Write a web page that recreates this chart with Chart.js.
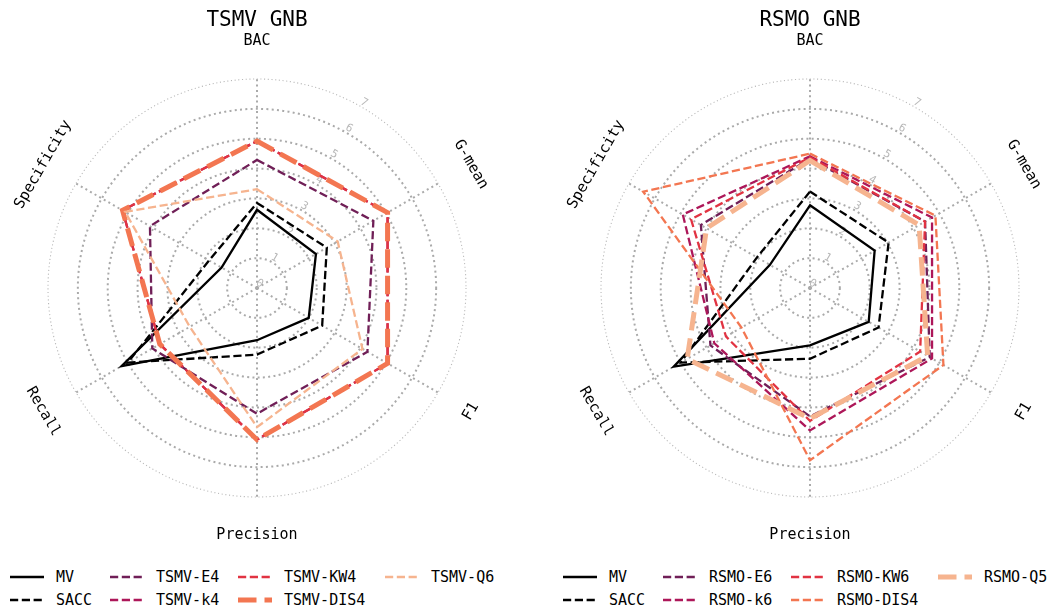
<!DOCTYPE html>
<html>
<head>
<meta charset="utf-8">
<script src="https://cdn.jsdelivr.net/npm/chart.js@4.4.1/dist/chart.umd.min.js"></script>
<style>
  html, body { margin: 0; padding: 0; background: #fff; }
  body { width: 1061px; height: 610px; overflow: hidden; position: relative; font-family: "DejaVu Sans Mono", monospace; }
  .panel { position: absolute; top: 0; width: 514px; height: 610px; }
  .panel canvas { position: absolute; left: 0; top: 0; }
  .leg { position: absolute; font-size: 15px; line-height: 18px; color: #000; white-space: nowrap; }
  .leg svg { position: absolute; left: 0; top: 4px; }
</style>
</head>
<body>
<div class="panel" id="p1" style="left:0px"><canvas id="c1" width="514" height="560"></canvas></div>
<div class="panel" id="p2" style="left:553px"><canvas id="c2" width="514" height="560"></canvas></div>
<script>
// axes, clockwise from the top
const metrics = ['BAC', 'G-mean', 'F1', 'Precision', 'Recall', 'Specificity'];
const rTicks = [0, 1, 2, 3, 4, 5, 6, 7];

// TSMV GNB
const tsmvTitle = 'TSMV GNB';
const tsmvNames = ['MV', 'SACC', 'TSMV-E4', 'TSMV-k4', 'TSMV-KW4', 'TSMV-DIS4', 'TSMV-Q6'];
const tsmvMV   = [2.62, 2.28, 2.00, 1.75, 5.24, 1.37];
const tsmvSACC = [2.85, 2.70, 2.52, 2.23, 5.00, 1.85];
const tsmvE4   = [4.29, 4.50, 4.27, 4.21, 4.05, 4.14];
const tsmvK4   = [4.92, 5.05, 5.05, 5.08, 3.76, 5.20];
const tsmvKW4  = [4.92, 5.05, 5.05, 5.08, 3.76, 5.20];
const tsmvDIS4 = [4.92, 5.05, 5.05, 5.08, 3.76, 5.20];
const tsmvQ6   = [3.31, 3.12, 4.08, 4.66, 2.60, 5.10];

// RSMO GNB
const rsmoTitle = 'RSMO GNB';
const rsmoNames = ['MV', 'SACC', 'RSMO-E6', 'RSMO-k6', 'RSMO-KW6', 'RSMO-DIS4', 'RSMO-Q5'];
const rsmoMV   = [2.77, 2.50, 2.27, 1.92, 5.27, 1.55];
const rsmoSACC = [3.23, 3.04, 2.65, 2.37, 5.00, 2.05];
const rsmoE6   = [4.33, 4.45, 4.63, 4.30, 3.85, 4.22];
const rsmoK6   = [4.41, 4.72, 4.72, 4.77, 3.70, 4.92];
const rsmoKW6  = [4.38, 4.45, 4.26, 4.45, 3.25, 4.60];
const rsmoDIS4 = [4.50, 4.85, 5.16, 5.77, 2.65, 6.45];
const rsmoQ5   = [4.27, 4.22, 4.55, 4.37, 4.75, 4.00];

const colors = ['#000000', '#000000', '#701f57', '#ad1759', '#e13342', '#f37651', '#f6b48f'];
const thin = 2.3, thick = 5;

function lineStyle(i, thickIdx) {
  if (i === 0) return { w: thin, dash: [] };
  if (i === thickIdx) return { w: thick, dash: [18.5, 8] };
  return { w: thin, dash: [8.2, 3.6] };
}

// tick labels sit under the lines, axis names and title on top
const decor = {
  id: 'decor',
  beforeDatasetsDraw(chart) {
    const r = chart.scales.r, ctx = chart.ctx;
    const a = 30 * Math.PI / 180;
    ctx.save();
    ctx.fillStyle = '#b8b8b8';
    ctx.font = '11px "DejaVu Sans Mono"';
    ctx.textAlign = 'center';
    ctx.textBaseline = 'middle';
    rTicks.forEach(v => {
      const d = r.getDistanceFromCenterForValue(v) + 5;
      ctx.save();
      ctx.translate(r.xCenter + d * Math.sin(a), r.yCenter - d * Math.cos(a));
      ctx.rotate(a);
      ctx.fillText(String(v), 0, 0);
      ctx.restore();
    });
    ctx.restore();
  },
  afterDraw(chart, args, opts) {
    const r = chart.scales.r, ctx = chart.ctx;
    ctx.save();
    ctx.fillStyle = '#000';
    ctx.textAlign = 'center';
    ctx.textBaseline = 'middle';
    ctx.font = '15px "DejaVu Sans Mono"';
    metrics.forEach((m, i) => {
      const p = r.getPointPosition(i, 247);
      let deg = i * 360 / metrics.length;
      if (deg > 90 && deg < 270) deg -= 180;
      else if (deg >= 270) deg -= 360;
      ctx.save();
      ctx.translate(p.x, p.y);
      ctx.rotate(deg * Math.PI / 180);
      ctx.fillText(m, 0, 0);
      ctx.restore();
    });
    ctx.font = '21px "DejaVu Sans Mono"';
    ctx.fillText(opts.title, r.xCenter, 21);
    ctx.restore();
  }
};

function makeChart(canvasId, panelId, title, names, series, thickIdx) {
  const n = series.length;
  const datasets = series.map((vals, i) => {
    const s = lineStyle(i, thickIdx);
    return {
      label: names[i],
      data: vals,
      borderColor: colors[i],
      borderWidth: s.w,
      borderDash: s.dash,
      borderCapStyle: 'butt',
      borderJoinStyle: 'miter',
      pointRadius: 0,
      pointHoverRadius: 0,
      fill: false,
      tension: 0,
      order: n - 1 - i
    };
  });

  new Chart(document.getElementById(canvasId), {
    type: 'radar',
    data: { labels: metrics, datasets: datasets },
    options: {
      responsive: false,
      animation: false,
      layout: { padding: { left: 48, right: 48, top: 79, bottom: 63 } },
      plugins: {
        legend: { display: false },
        tooltip: { enabled: false },
        decor: { title: title }
      },
      scales: {
        r: {
          min: rTicks[0],
          max: rTicks[rTicks.length - 1],
          ticks: { stepSize: 1, display: false },
          pointLabels: { display: false },
          grid: {
            circular: true,
            color: c => c.index === rTicks.length - 1 ? '#b8b8b8' : '#aaaaaa',
            lineWidth: c => c.index === rTicks.length - 1 ? 1.1 : 2
          },
          border: {
            dash: c => c.index === rTicks.length - 1 ? [1.1, 2.6] : [2, 3.3]
          },
          angleLines: { color: '#aaaaaa', lineWidth: 2, borderDash: [2, 3.3] }
        }
      }
    },
    plugins: [decor]
  });

  // legend, filled column by column like the original
  const panel = document.getElementById(panelId);
  const colX = [10, 110, 238, 385];
  const rowY = [577, 600];
  names.forEach((name, i) => {
    const s = lineStyle(i, thickIdx);
    const col = Math.floor(i / 2), row = i % 2;
    const div = document.createElement('div');
    div.className = 'leg';
    div.style.left = colX[col] + 'px';
    div.style.top = (rowY[row] - 9) + 'px';
    div.innerHTML =
      '<svg width="34" height="10"><line x1="0" y1="5" x2="34" y2="5" stroke="' + colors[i] +
      '" stroke-width="' + s.w + '" stroke-dasharray="' + (s.dash.length ? s.dash.join(' ') : 'none') +
      '"/></svg><span style="margin-left:46px">' + name + '</span>';
    panel.appendChild(div);
  });
}

makeChart('c1', 'p1', tsmvTitle, tsmvNames,
  [tsmvMV, tsmvSACC, tsmvE4, tsmvK4, tsmvKW4, tsmvDIS4, tsmvQ6], 5);
makeChart('c2', 'p2', rsmoTitle, rsmoNames,
  [rsmoMV, rsmoSACC, rsmoE6, rsmoK6, rsmoKW6, rsmoDIS4, rsmoQ5], 6);
</script>
</body>
</html>
